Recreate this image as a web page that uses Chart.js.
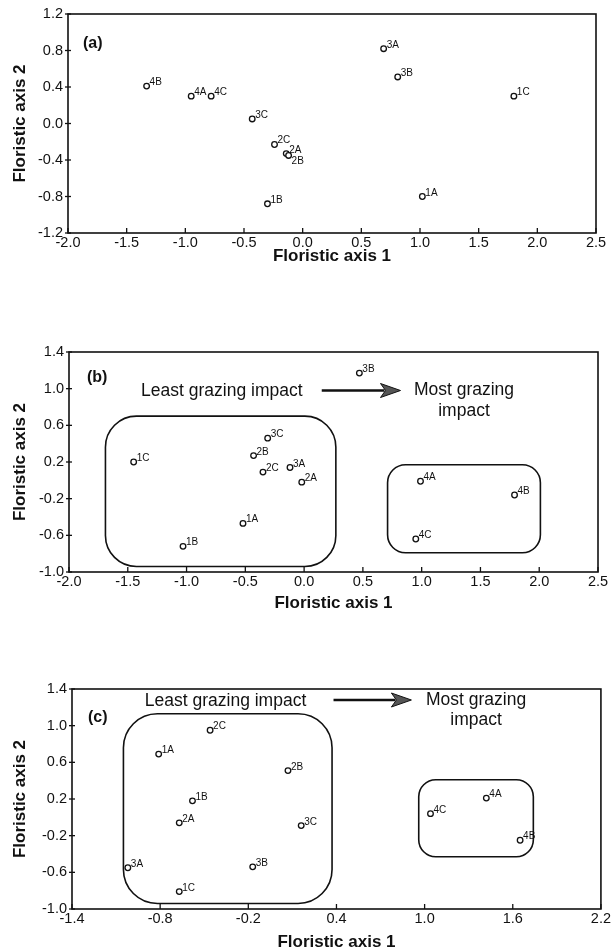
<!DOCTYPE html>
<html>
<head>
<meta charset="utf-8">
<script src="https://cdn.jsdelivr.net/npm/chart.js@4.4.1/dist/chart.umd.min.js"></script>
<style>
  html, body { margin: 0; padding: 0; background: #fff; }
  #wrap { position: relative; width: 612px; height: 951px; }
  .panel { position: absolute; left: 0; width: 612px; }
</style>
</head>
<body>
<div id="wrap">
  <div class="panel" style="top:0;height:270px"><canvas id="chartA"></canvas></div>
  <div class="panel" style="top:290px;height:330px"><canvas id="chartB"></canvas></div>
  <div class="panel" style="top:620px;height:331px"><canvas id="chartC"></canvas></div>
</div>
<script>
// panel (a)
const aNames = ['4B', '4A', '4C', '3C', '2C', '2A', '2B', '1B', '3A', '3B', '1C', '1A'];
const aX = [-1.33, -0.95, -0.78, -0.43, -0.24, -0.14, -0.12, -0.30, 0.69, 0.81, 1.80, 1.02];
const aY = [0.41, 0.30, 0.30, 0.05, -0.23, -0.33, -0.35, -0.88, 0.82, 0.51, 0.30, -0.80];
const aXRange = [-2.0, 2.5, 0.5];
const aYRange = [-1.2, 1.2, 0.4];
const aLabelBelow = ['2B'];

// panel (b)
const bNames = ['1C', '1B', '1A', '2B', '3C', '2C', '3A', '2A', '3B', '4A', '4B', '4C'];
const bX = [-1.45, -1.03, -0.52, -0.43, -0.31, -0.35, -0.12, -0.02, 0.47, 0.99, 1.79, 0.95];
const bY = [0.20, -0.72, -0.47, 0.27, 0.46, 0.09, 0.14, -0.02, 1.17, -0.01, -0.16, -0.64];
const bXRange = [-2.0, 2.5, 0.5];
const bYRange = [-1.0, 1.4, 0.4];
// groups: [xMin, xMax, yMax, yMin]
const bGroups = [[-1.69, 0.27, 0.70, -0.94], [0.71, 2.01, 0.17, -0.79]];
const bNotes = [['Least grazing impact', -0.70, 0.97], ['Most grazing', 1.36, 0.98], ['impact', 1.36, 0.75]];
const bArrow = [0.15, 0.82, 0.98];

// panel (c)
const cNames = ['1A', '2C', '2B', '1B', '2A', '3C', '3A', '1C', '3B', '4C', '4A', '4B'];
const cX = [-0.81, -0.46, 0.07, -0.58, -0.67, 0.16, -1.02, -0.67, -0.17, 1.04, 1.42, 1.65];
const cY = [0.69, 0.95, 0.51, 0.18, -0.06, -0.09, -0.55, -0.81, -0.54, 0.04, 0.21, -0.25];
const cXRange = [-1.4, 2.2, 0.6];
const cYRange = [-1.0, 1.4, 0.4];
const cGroups = [[-1.05, 0.37, 1.13, -0.94], [0.96, 1.74, 0.41, -0.43]];
const cNotes = [['Least grazing impact', -0.355, 1.27], ['Most grazing', 1.35, 1.28], ['impact', 1.35, 1.06]];
const cArrow = [0.38, 0.91, 1.28];

const FONT = "'Liberation Sans', Arial, Helvetica, sans-serif";

function roundRect(ctx, x, y, w, h, r) {
    ctx.beginPath();
    ctx.moveTo(x + r, y);
    ctx.arcTo(x + w, y, x + w, y + h, r);
    ctx.arcTo(x + w, y + h, x, y + h, r);
    ctx.arcTo(x, y + h, x, y, r);
    ctx.arcTo(x, y, x + w, y, r);
    ctx.closePath();
    ctx.stroke();
}

const overlay = {
    id: 'overlay',
    afterDatasetsDraw(chart, args, o) {
        const ctx = chart.ctx;
        const xs = chart.scales.x;
        const ys = chart.scales.y;
        const area = chart.chartArea;
        ctx.save();
        ctx.strokeStyle = '#111';
        ctx.fillStyle = '#111';

        // frame
        ctx.lineWidth = 1.6;
        ctx.strokeRect(area.left, area.top, area.right - area.left, area.bottom - area.top);

        // tick marks
        ctx.lineWidth = 1.3;
        xs.ticks.forEach((t) => {
            const px = xs.getPixelForValue(t.value);
            ctx.beginPath();
            ctx.moveTo(px, area.bottom);
            ctx.lineTo(px, area.bottom - 5);
            ctx.stroke();
        });
        ys.ticks.forEach((t) => {
            const py = ys.getPixelForValue(t.value);
            ctx.beginPath();
            ctx.moveTo(area.left - 3, py);
            ctx.lineTo(area.left + 3, py);
            ctx.stroke();
        });

        // group boxes
        ctx.lineWidth = 1.6;
        (o.groups || []).forEach((g, i) => {
            const x1 = xs.getPixelForValue(g[0]);
            const x2 = xs.getPixelForValue(g[1]);
            const y1 = ys.getPixelForValue(g[2]);
            const y2 = ys.getPixelForValue(g[3]);
            roundRect(ctx, x1, y1, x2 - x1, y2 - y1, o.radii[i]);
        });

        // arrow
        if (o.arrow) {
            const x1 = xs.getPixelForValue(o.arrow[0]);
            const x2 = xs.getPixelForValue(o.arrow[1]);
            const y = ys.getPixelForValue(o.arrow[2]);
            ctx.lineWidth = 2.5;
            ctx.beginPath();
            ctx.moveTo(x1, y);
            ctx.lineTo(x2 - 16, y);
            ctx.stroke();
            ctx.beginPath();
            ctx.moveTo(x2 - 20, y - 7);
            ctx.lineTo(x2, y);
            ctx.lineTo(x2 - 20, y + 7);
            ctx.lineTo(x2 - 15, y);
            ctx.closePath();
            ctx.fillStyle = '#555';
            ctx.fill();
            ctx.lineWidth = 1;
            ctx.stroke();
            ctx.fillStyle = '#111';
        }

        // notes
        ctx.font = '17.5px ' + FONT;
        ctx.textAlign = 'center';
        ctx.textBaseline = 'middle';
        (o.notes || []).forEach((n) => {
            ctx.fillText(n[0], xs.getPixelForValue(n[1]), ys.getPixelForValue(n[2]));
        });

        // panel label
        ctx.font = 'bold 16px ' + FONT;
        ctx.textAlign = 'left';
        ctx.fillText(o.panel, area.left + o.panelAt[0], area.top + o.panelAt[1]);

        // point labels
        ctx.font = '10px ' + FONT;
        ctx.textBaseline = 'alphabetic';
        const meta = chart.getDatasetMeta(0);
        meta.data.forEach((pt, i) => {
            const name = o.names[i];
            const below = (o.below || []).includes(name);
            ctx.fillText(name, pt.x + 3, below ? pt.y + 9 : pt.y - 1);
        });
        ctx.restore();
    },
};

function makeChart(id, cfg) {
    const pts = cfg.xs.map((x, i) => ({ x: x, y: cfg.ys[i] }));
    const tickFont = { family: FONT, size: 14.5 };
    const titleFont = { family: FONT, size: 17, weight: 'bold', lineHeight: 1 };
    return new Chart(document.getElementById(id), {
        type: 'scatter',
        data: {
            datasets: [{
                data: pts,
                pointRadius: 2.8,
                pointHoverRadius: 2.8,
                pointBorderWidth: 1.3,
                borderColor: '#111',
                backgroundColor: '#fff',
            }],
        },
        options: {
            responsive: true,
            maintainAspectRatio: false,
            animation: false,
            events: [],
            layout: { padding: { top: cfg.pad[0], right: cfg.pad[1], bottom: 0, left: 0 } },
            plugins: {
                legend: { display: false },
                tooltip: { enabled: false },
                overlay: cfg.overlay,
            },
            scales: {
                x: {
                    type: 'linear',
                    min: cfg.xRange[0],
                    max: cfg.xRange[1],
                    afterFit: (scale) => { scale.height = cfg.xHeight; },
                    grid: { display: false, drawTicks: false },
                    border: { display: false },
                    ticks: {
                        stepSize: cfg.xRange[2],
                        autoSkip: false,
                        maxRotation: 0,
                        padding: 1,
                        color: '#111',
                        font: tickFont,
                        callback: (v) => v.toFixed(1),
                    },
                    title: {
                        display: true,
                        text: 'Floristic axis 1',
                        color: '#111',
                        font: titleFont,
                        padding: { top: 0, bottom: cfg.xTitlePad },
                    },
                },
                y: {
                    type: 'linear',
                    min: cfg.yRange[0],
                    max: cfg.yRange[1],
                    afterFit: (scale) => { scale.width = cfg.yWidth; },
                    grid: { display: false, drawTicks: false },
                    border: { display: false },
                    ticks: {
                        stepSize: cfg.yRange[2],
                        autoSkip: false,
                        padding: 5,
                        color: '#111',
                        font: tickFont,
                        callback: (v) => v.toFixed(1),
                    },
                    title: {
                        display: true,
                        text: 'Floristic axis 2',
                        color: '#111',
                        font: titleFont,
                        padding: { top: 11.5, bottom: 0 },
                    },
                },
            },
        },
        plugins: [overlay],
    });
}

makeChart('chartA', {
    xs: aX, ys: aY, xRange: aXRange, yRange: aYRange,
    pad: [14, 16], yWidth: 68, xHeight: 37, xTitlePad: 5.5,
    overlay: { names: aNames, below: aLabelBelow, panel: '(a)', panelAt: [15, 30] },
});

makeChart('chartB', {
    xs: bX, ys: bY, xRange: bXRange, yRange: bYRange,
    pad: [62, 14], yWidth: 69, xHeight: 48, xTitlePad: 8.5,
    overlay: {
        names: bNames, panel: '(b)', panelAt: [18, 26],
        groups: bGroups, radii: [31, 18], notes: bNotes, arrow: bArrow,
    },
});

makeChart('chartC', {
    xs: cX, ys: cY, xRange: cXRange, yRange: cYRange,
    pad: [69, 10], yWidth: 72, xHeight: 42, xTitlePad: 0,
    overlay: {
        names: cNames, panel: '(c)', panelAt: [16, 29],
        groups: cGroups, radii: [34, 17], notes: cNotes, arrow: cArrow,
    },
});
</script>
</body>
</html>
